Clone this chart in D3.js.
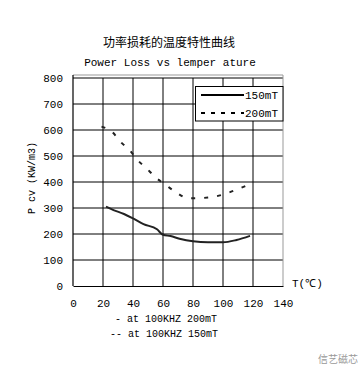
<!DOCTYPE html>
<html>
<head>
<meta charset="utf-8">
<script src="https://cdn.jsdelivr.net/npm/d3@7"></script>
<style>
  body { margin: 0; background: #fff; }
  svg { display: block; }
  .mono { font-family: "Liberation Mono", "DejaVu Sans Mono", monospace; }
</style>
</head>
<body>
<svg id="chart" width="360" height="366"></svg>
<script>
// data
const xTicks = [0, 20, 40, 60, 80, 100, 120, 140];
const yTicks = [0, 100, 200, 300, 400, 500, 600, 700, 800];
const temp150 = [22, 27, 34, 40, 47, 56, 60, 65, 71, 80, 90, 100, 109, 118];
const loss150 = [305, 292, 277, 260, 238, 218, 197, 192, 182, 172, 168, 168, 177, 193];
const temp200 = [19, 26, 32, 39, 42, 49, 55, 62, 69, 77, 90, 99, 110, 118];
const loss200 = [613, 593, 553, 514, 491, 453, 418, 388, 359, 337, 340, 350, 373, 392];
const seriesNames = ["150mT", "200mT"];

const svg = d3.select("#chart");
const x = d3.scaleLinear().domain([0, 140]).range([73, 283]);
const y = d3.scaleLinear().domain([0, 800]).range([286, 78]);

// titles
svg.append("text").attr("x", 169).attr("y", 47).attr("text-anchor", "middle")
    .style("font-family", "'Noto Sans CJK SC', sans-serif").style("font-size", "12px")
    .text("功率损耗的温度特性曲线");
svg.append("text").attr("class", "mono").attr("x", 170).attr("y", 66).attr("text-anchor", "middle")
    .style("font-size", "11px").text("Power Loss vs lemper ature");

// grid
const grid = svg.append("g");
grid.selectAll("line.v").data(xTicks.slice(1, -1)).join("line")
    .attr("x1", d => x(d)).attr("x2", d => x(d)).attr("y1", y(0)).attr("y2", y(800))
    .attr("stroke", "#000");
grid.selectAll("line.h").data(yTicks.slice(1)).join("line")
    .attr("x1", x(0)).attr("x2", x(140)).attr("y1", d => y(d)).attr("y2", d => y(d))
    .attr("stroke", "#000");
// grey frame on top/right
svg.append("path").attr("fill", "none").attr("stroke", "#999")
    .attr("d", `M${x(0)},${y(800) - 3}H${x(140)}V${y(0)}`);

// axes
const xAxis = svg.append("g").attr("transform", `translate(0,${y(0)})`)
    .call(d3.axisBottom(x).tickValues(xTicks).tickSize(0).tickPadding(13));
const yAxis = svg.append("g").attr("transform", `translate(${x(0)},0)`)
    .call(d3.axisLeft(y).tickValues(yTicks).tickSize(0).tickPadding(10));
[xAxis, yAxis].forEach(a => {
    a.select(".domain").attr("stroke", "#000").attr("stroke-width", 1.2);
    a.selectAll("text").attr("class", "mono").style("font-size", "11px").attr("fill", "#000");
});
yAxis.select(".domain").attr("d", `M0,${y(0)}V${y(800) - 3}`);

// axis labels
svg.append("text").attr("class", "mono")
    .attr("transform", "translate(35,178) rotate(-90)").attr("text-anchor", "middle")
    .style("font-size", "10px").text("P cv (KW/m3)");
svg.append("text").attr("class", "mono").attr("x", 292).attr("y", 287)
    .style("font-size", "11px").text("T(\u2103)");

// curves
const line = d3.line().x(d => x(d[0])).y(d => y(d[1])).curve(d3.curveMonotoneX);
svg.append("path").datum(d3.zip(temp150, loss150)).attr("d", line)
    .attr("fill", "none").attr("stroke", "#222").attr("stroke-width", 2);
svg.append("path").datum(d3.zip(temp200, loss200)).attr("d", line)
    .attr("fill", "none").attr("stroke", "#222").attr("stroke-width", 2)
    .attr("stroke-dasharray", "4,9");

// legend
const lg = svg.append("g");
lg.append("rect").attr("x", 195.5).attr("y", 86.5).attr("width", 87.5).attr("height", 34.5)
    .attr("fill", "#fff").attr("stroke", "#000");
lg.selectAll("line").data(seriesNames).join("line")
    .attr("x1", 201).attr("x2", 244).attr("y1", (d, i) => 95 + i * 18).attr("y2", (d, i) => 95 + i * 18)
    .attr("stroke", "#000").attr("stroke-width", 2)
    .attr("stroke-dasharray", (d, i) => i ? "4,6" : null);
lg.selectAll("text").data(seriesNames).join("text").attr("class", "mono")
    .attr("x", 245).attr("y", (d, i) => 99 + i * 18).style("font-size", "11px").text(d => d);

// notes
svg.append("text").attr("class", "mono").attr("x", 115).attr("y", 322)
    .style("font-size", "10px").text("- at 100KHZ 200mT");
svg.append("text").attr("class", "mono").attr("x", 110).attr("y", 337)
    .style("font-size", "10px").text("-- at 100KHZ 150mT");

// watermark
svg.append("text").attr("x", 358).attr("y", 363).attr("text-anchor", "end")
    .style("font-family", "'Noto Sans CJK SC', sans-serif").style("font-size", "10px")
    .attr("fill", "#999").text("信艺磁芯");
</script>
</body>
</html>
